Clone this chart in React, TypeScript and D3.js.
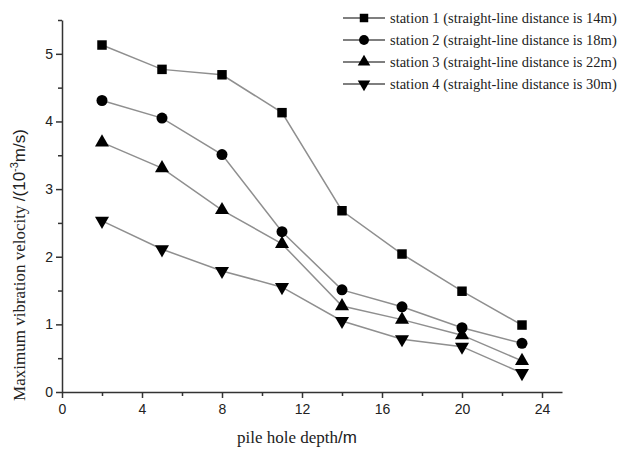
import React, { useEffect, useRef } from "react";
import * as d3 from "d3";

// pile hole depth (m)
const depths = [2, 5, 8, 11, 14, 17, 20, 23];

// maximum vibration velocity (10^-3 m/s) per station
const station1 = [5.13, 4.77, 4.69, 4.13, 2.68, 2.04, 1.49, 0.99];
const station2 = [4.31, 4.05, 3.51, 2.37, 1.51, 1.26, 0.95, 0.72];
const station3 = [3.69, 3.31, 2.69, 2.19, 1.27, 1.07, 0.84, 0.46];
const station4 = [2.53, 2.11, 1.79, 1.55, 1.05, 0.78, 0.67, 0.28];

const seriesNames = [
  "station 1 (straight-line distance is 14m)",
  "station 2 (straight-line distance is 18m)",
  "station 3 (straight-line distance is 22m)",
  "station 4 (straight-line distance is 30m)",
];

const xTicks = [0, 4, 8, 12, 16, 20, 24];
const yTicks = [0, 1, 2, 3, 4, 5];

const W = 642;
const H = 451;
const margin = { top: 20, right: 80, bottom: 59, left: 62 };

const App: React.FC = () => {
  const svgRef = useRef<SVGSVGElement | null>(null);

  useEffect(() => {
    if (!svgRef.current) return;
    const svg = d3.select(svgRef.current);
    svg.selectAll("*").remove();

    const x = d3
      .scaleLinear()
      .domain([0, 25])
      .range([margin.left, W - margin.right]);
    const y = d3
      .scaleLinear()
      .domain([0, 5.5])
      .range([H - margin.bottom, margin.top]);

    const series = [station1, station2, station3, station4];
    const symbols = [
      d3.symbolSquare,
      d3.symbolCircle,
      d3.symbolTriangle,
      d3.symbolTriangle,
    ];
    const sizes = [90, 95, 85, 85];

    const drawSymbol = (
      g: d3.Selection<SVGGElement, unknown, null, undefined>,
      i: number,
      cx: number,
      cy: number,
      scale = 1
    ) => {
      g.append("path")
        .attr("d", d3.symbol().type(symbols[i]).size(sizes[i] * scale)()!)
        .attr(
          "transform",
          `translate(${cx},${cy})` + (i === 3 ? " rotate(180)" : "")
        )
        .attr("fill", "#000");
    };

    const line = d3
      .line<number>()
      .x((_, i) => x(depths[i]))
      .y((d) => y(d));

    const plot = svg.append("g");
    series.forEach((vals) => {
      plot
        .append("path")
        .attr("d", line(vals)!)
        .attr("fill", "none")
        .attr("stroke", "#8f8f8f")
        .attr("stroke-width", 1.5);
    });
    series.forEach((vals, si) => {
      const g = plot.append("g");
      vals.forEach((v, i) => drawSymbol(g, si, x(depths[i]), y(v)));
    });

    // axes
    const axisColor = "#333";
    const tickFont = "Arial, 'Liberation Sans', sans-serif";
    const serif = "'Liberation Serif', 'Times New Roman', serif";

    const xAxis = svg
      .append("g")
      .attr("transform", `translate(0,${y(0)})`)
      .call(
        d3
          .axisBottom(x)
          .tickValues(d3.range(0, 25, 2))
          .tickSize(4)
          .tickSizeOuter(0)
          .tickFormat((d) => (xTicks.includes(d as number) ? String(d) : ""))
      );
    xAxis.selectAll(".tick line").attr("y2", (d) =>
      xTicks.includes(d as number) ? 6 : 4
    );
    xAxis
      .selectAll(".tick text")
      .attr("font-family", tickFont)
      .attr("font-size", 14)
      .attr("fill", "#222")
      .attr("dy", "1.05em");

    const yAxis = svg
      .append("g")
      .attr("transform", `translate(${x(0)},0)`)
      .call(
        d3
          .axisLeft(y)
          .tickValues(d3.range(0, 5.51, 0.5))
          .tickSize(4)
          .tickSizeOuter(0)
          .tickFormat((d) =>
            yTicks.includes(d as number) ? String(d) : ""
          )
      );
    yAxis.selectAll(".tick line").attr("x2", (d) =>
      yTicks.includes(d as number) ? -6 : -4
    );
    yAxis
      .selectAll(".tick text")
      .attr("font-family", tickFont)
      .attr("font-size", 14)
      .attr("fill", "#222")
      .attr("x", -9);

    [xAxis, yAxis].forEach((a) => {
      a.selectAll(".domain, .tick line")
        .attr("stroke", axisColor)
        .attr("stroke-width", 1.5);
    });

    // axis titles
    const xt = svg
      .append("text")
      .attr("x", x(12) - 5)
      .attr("y", 443)
      .attr("text-anchor", "middle")
      .attr("font-size", 17)
      .attr("fill", "#222")
      .attr("font-family", serif);
    xt.append("tspan").text("pile hole depth");
    xt.append("tspan").attr("font-family", tickFont).text("/m");

    const yt = svg
      .append("text")
      .attr("transform", `translate(25,265) rotate(-90)`)
      .attr("text-anchor", "middle")
      .attr("font-size", 17)
      .attr("fill", "#222")
      .attr("font-family", serif);
    yt.append("tspan").text("Maximum vibration velocity ");
    const yt2 = yt
      .append("tspan")
      .attr("font-family", tickFont)
      .attr("font-size", 17);
    yt2.append("tspan").text("/(10");
    yt2.append("tspan").attr("font-size", 11).attr("dy", -7).text("-3");
    yt2.append("tspan").attr("dy", 7).text("m/s)");

    // legend
    const legend = svg.append("g").attr("transform", "translate(343,18)");
    seriesNames.forEach((name, i) => {
      const row = legend
        .append("g")
        .attr("transform", `translate(0,${i * 22})`);
      row
        .append("line")
        .attr("x1", 0)
        .attr("x2", 42)
        .attr("stroke", "#555")
        .attr("stroke-width", 1.3);
      drawSymbol(row as any, i, 21, 0, 0.8);
      row
        .append("text")
        .attr("x", 47)
        .attr("dy", "0.35em")
        .attr("font-size", 14.5)
        .attr("fill", "#222")
        .attr("font-family", serif)
        .text(name);
    });
  }, []);

  return (
    <svg
      ref={svgRef}
      width={W}
      height={H}
      style={{
        display: "block",
        position: "absolute",
        left: 0,
        top: 0,
        background: "#fff",
      }}
    />
  );
};

export default App;
